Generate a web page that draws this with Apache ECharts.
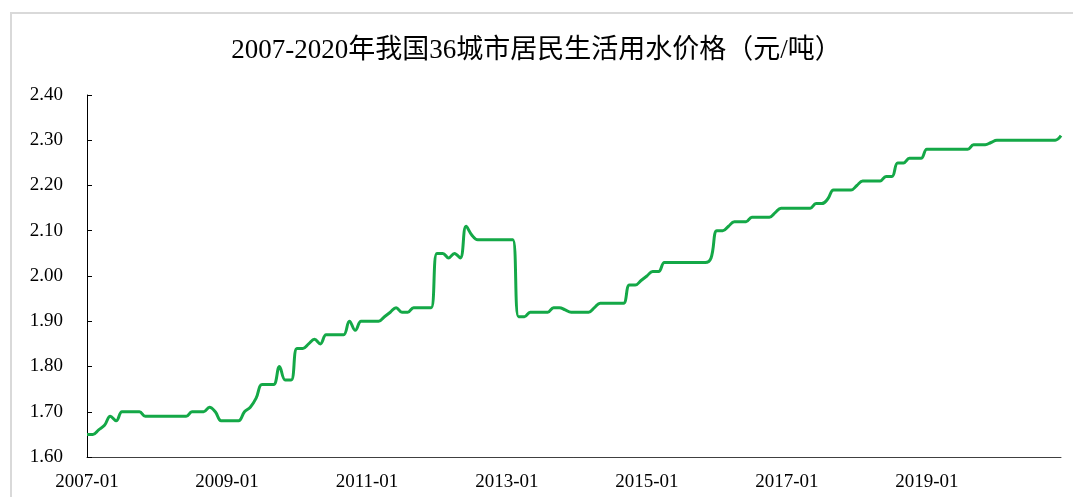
<!DOCTYPE html>
<html>
<head>
<meta charset="utf-8">
<title>2007-2020年我国36城市居民生活用水价格</title>
<script src="https://cdn.jsdelivr.net/npm/echarts@6/dist/echarts.min.js"></script>
<style>
  html, body { margin: 0; padding: 0; background: #fff; }
  #chart { width: 1073px; height: 497px; }
</style>
</head>
<body>
<div id="chart"></div>
<script>
// 年份范围，月份类目由此生成
var startYear = 2007;
var endYear = 2020;

// 36城市居民生活用水价格（元/吨），按月，2007-01 起
var prices = [
    // 2007
    1.65, 1.65, 1.66, 1.67, 1.69, 1.68, 1.70, 1.70, 1.70, 1.70, 1.69, 1.69,
    // 2008
    1.69, 1.69, 1.69, 1.69, 1.69, 1.69, 1.70, 1.70, 1.70, 1.71, 1.70, 1.68,
    // 2009
    1.68, 1.68, 1.68, 1.70, 1.71, 1.73, 1.76, 1.76, 1.76, 1.80, 1.77, 1.77,
    // 2010
    1.84, 1.84, 1.85, 1.86, 1.85, 1.87, 1.87, 1.87, 1.87, 1.90, 1.88, 1.90,
    // 2011
    1.90, 1.90, 1.90, 1.91, 1.92, 1.93, 1.92, 1.92, 1.93, 1.93, 1.93, 1.93,
    // 2012
    2.05, 2.05, 2.04, 2.05, 2.04, 2.11, 2.09, 2.08, 2.08, 2.08, 2.08, 2.08,
    // 2013
    2.08, 2.08, 1.91, 1.91, 1.92, 1.92, 1.92, 1.92, 1.93, 1.93, 1.925, 1.92,
    // 2014
    1.92, 1.92, 1.92, 1.93, 1.94, 1.94, 1.94, 1.94, 1.94, 1.98, 1.98, 1.99,
    // 2015
    2.00, 2.01, 2.01, 2.03, 2.03, 2.03, 2.03, 2.03, 2.03, 2.03, 2.03, 2.04,
    // 2016
    2.10, 2.10, 2.11, 2.12, 2.12, 2.12, 2.13, 2.13, 2.13, 2.13, 2.14, 2.15,
    // 2017
    2.15, 2.15, 2.15, 2.15, 2.15, 2.16, 2.16, 2.17, 2.19, 2.19, 2.19, 2.19,
    // 2018
    2.20, 2.21, 2.21, 2.21, 2.21, 2.22, 2.22, 2.25, 2.25, 2.26, 2.26, 2.26,
    // 2019
    2.28, 2.28, 2.28, 2.28, 2.28, 2.28, 2.28, 2.28, 2.29, 2.29, 2.29, 2.295,
    // 2020
    2.30, 2.30, 2.30, 2.30, 2.30, 2.30, 2.30, 2.30, 2.30, 2.30, 2.30, 2.31
];

// y 轴刻度
var yMin = 1.6;
var yMax = 2.4;
var yStep = 0.1;

/**
 * 生成 'YYYY-MM' 形式的月份类目
 */
function makeMonths(y0, y1) {
    var months = [];
    for (var y = y0; y <= y1; y++) {
        for (var m = 1; m <= 12; m++) {
            months.push(y + '-' + (m < 10 ? '0' + m : m));
        }
    }
    return months;
}

var months = makeMonths(startYear, endYear);
var serifFont = '"Liberation Serif", "Times New Roman", "Noto Sans CJK SC", serif';

var myChart = echarts.init(document.getElementById('chart'));
myChart.setOption({
    animation: false,
    backgroundColor: '#fff',
    title: {
        text: '2007-2020年我国36城市居民生活用水价格（元/吨）',
        left: 'center',
        top: 32,
        textStyle: {
            fontFamily: serifFont,
            fontSize: 27,
            fontWeight: 'normal',
            color: '#000'
        }
    },
    graphic: [{
        type: 'rect',
        shape: { x: 11, y: 13, width: 1100, height: 520 },
        style: { fill: 'none', stroke: '#d9d9d9', lineWidth: 2 },
        silent: true
    }],
    grid: {
        left: 87,
        right: 12,
        top: 95,
        bottom: 40,
        outerBoundsMode: 'none'
    },
    xAxis: {
        type: 'category',
        data: months,
        boundaryGap: false,
        axisLine: { lineStyle: { color: '#404040', width: 1 } },
        axisTick: { show: false },
        axisLabel: {
            interval: 23,
            margin: 16,
            fontFamily: serifFont,
            fontSize: 19,
            color: '#000'
        },
        splitLine: { show: false }
    },
    yAxis: {
        type: 'value',
        min: yMin,
        max: yMax,
        interval: yStep,
        axisLine: { show: true, lineStyle: { color: '#000', width: 1 } },
        axisTick: { show: true, inside: true, length: 5, lineStyle: { color: '#000' } },
        axisLabel: {
            margin: 24,
            fontFamily: serifFont,
            fontSize: 19,
            color: '#000',
            formatter: function (v) {
                return v.toFixed(2);
            }
        },
        splitLine: { show: false }
    },
    series: [{
        type: 'line',
        data: prices,
        smooth: 0.4,
        showSymbol: false,
        lineStyle: { color: '#14a847', width: 3 },
        itemStyle: { color: '#14a847' }
    }]
});
</script>
</body>
</html>
